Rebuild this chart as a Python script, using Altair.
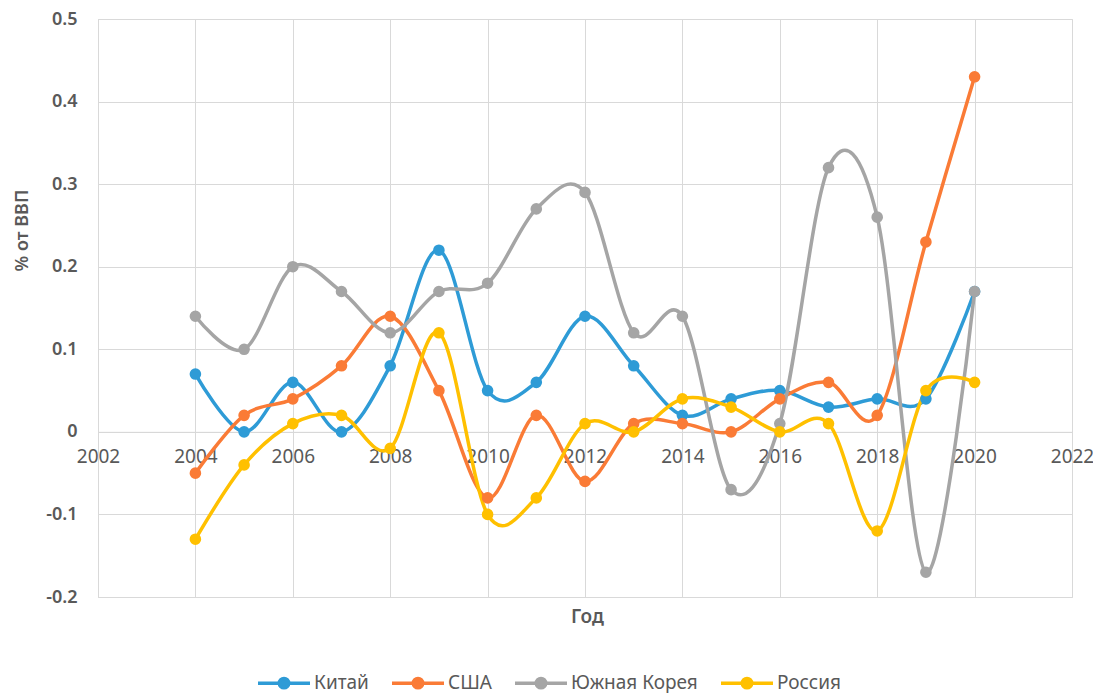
import altair as alt
import pandas as pd

years = list(range(2004, 2021))
series_names = ["Китай", "США", "Южная Корея", "Россия"]
colors = ["#2E9BD6", "#FA7B36", "#A5A5A5", "#FFC000"]

china = [0.07, 0.00, 0.06, 0.00, 0.08, 0.22, 0.05, 0.06, 0.14, 0.08, 0.02, 0.04, 0.05, 0.03, 0.04, 0.04, 0.17]
usa = [-0.05, 0.02, 0.04, 0.08, 0.14, 0.05, -0.08, 0.02, -0.06, 0.01, 0.01, 0.00, 0.04, 0.06, 0.02, 0.23, 0.43]
korea = [0.14, 0.10, 0.20, 0.17, 0.12, 0.17, 0.18, 0.27, 0.29, 0.12, 0.14, -0.07, 0.01, 0.32, 0.26, -0.17, 0.17]
russia = [-0.13, -0.04, 0.01, 0.02, -0.02, 0.12, -0.10, -0.08, 0.01, 0.00, 0.04, 0.03, 0.00, 0.01, -0.12, 0.05, 0.06]

x_ticks = list(range(2002, 2023, 2))
y_ticks = [-0.2, -0.1, 0.0, 0.1, 0.2, 0.3, 0.4, 0.5]

rows = []
for name, vals in zip(series_names, [china, usa, korea, russia]):
    for yr, v in zip(years, vals):
        rows.append({"Год": yr, "val": v, "Страна": name})
df = pd.DataFrame(rows)

FONT = "Noto Sans"
TXT = "#595959"
GRID = "#D9D9D9"

W, H = 974, 578
zero_off = -H * 0.2 / 0.7

x_enc = alt.X(
    "Год:Q",
    scale=alt.Scale(domain=[2002, 2022], nice=False, zero=False),
    axis=alt.Axis(
        values=x_ticks, format="d", title="Год", offset=zero_off,
        grid=True, gridColor=GRID, domainColor=GRID, ticks=False,
        labelPadding=16, labelFontSize=19, labelColor=TXT, labelFont=FONT,
        labelFlush=False,
        titleFontSize=19, titleColor=TXT, titleFont=FONT, titleFontWeight=600,
        titleY=185, titleX=489, titleBaseline="middle",
    ),
)
y_enc = alt.Y(
    "val:Q",
    scale=alt.Scale(domain=[-0.2, 0.5], nice=False),
    axis=alt.Axis(
        values=y_ticks, title="% от ВВП",
        labelExpr="datum.value == 0 ? '0' : toString(round(datum.value*10)/10)",
        grid=True, gridColor=GRID, domainColor=GRID, ticks=False,
        labelPadding=21, labelFontSize=18, labelColor=TXT, labelFont=FONT, labelFontWeight=600,
        titleFontSize=18, titleColor=TXT, titleFont=FONT, titleFontWeight=600,
        titleX=-76, titleY=211, titleBaseline="middle", titleAngle=-90,
    ),
)

scale = alt.Scale(domain=series_names, range=colors)
legend = alt.Legend(
    title=None, orient="none", direction="horizontal", legendX=158, legendY=636,
    symbolType="M-1,0L1,0M0.18,0A0.18,0.18,0,1,1,-0.18,0A0.18,0.18,0,1,1,0.18,0Z",
    symbolSize=2704, symbolStrokeWidth=3.5, labelFontSize=19, labelColor=TXT,
    labelFont=FONT, columnPadding=16, labelOffset=2,
)

lines = alt.Chart(df).mark_line(interpolate="cardinal", strokeWidth=3.5).encode(
    x=x_enc, y=y_enc,
    stroke=alt.Stroke("Страна:N", scale=scale, legend=legend, sort=series_names),
    order="Год:Q",
)
points = alt.Chart(df).mark_circle(size=135, opacity=1).encode(
    x=x_enc, y=y_enc,
    fill=alt.Fill("Страна:N", scale=scale, legend=legend, sort=series_names),
)

chart = alt.layer(lines, points).properties(
    width=W, height=H,
    autosize=alt.AutoSizeParams(type="none"),
    padding={"left": 90, "top": 11, "right": 21, "bottom": 96},
).configure_view(stroke=None).configure(background="white")

chart.save("out.html", embed_options={"renderer": "svg", "actions": False})
